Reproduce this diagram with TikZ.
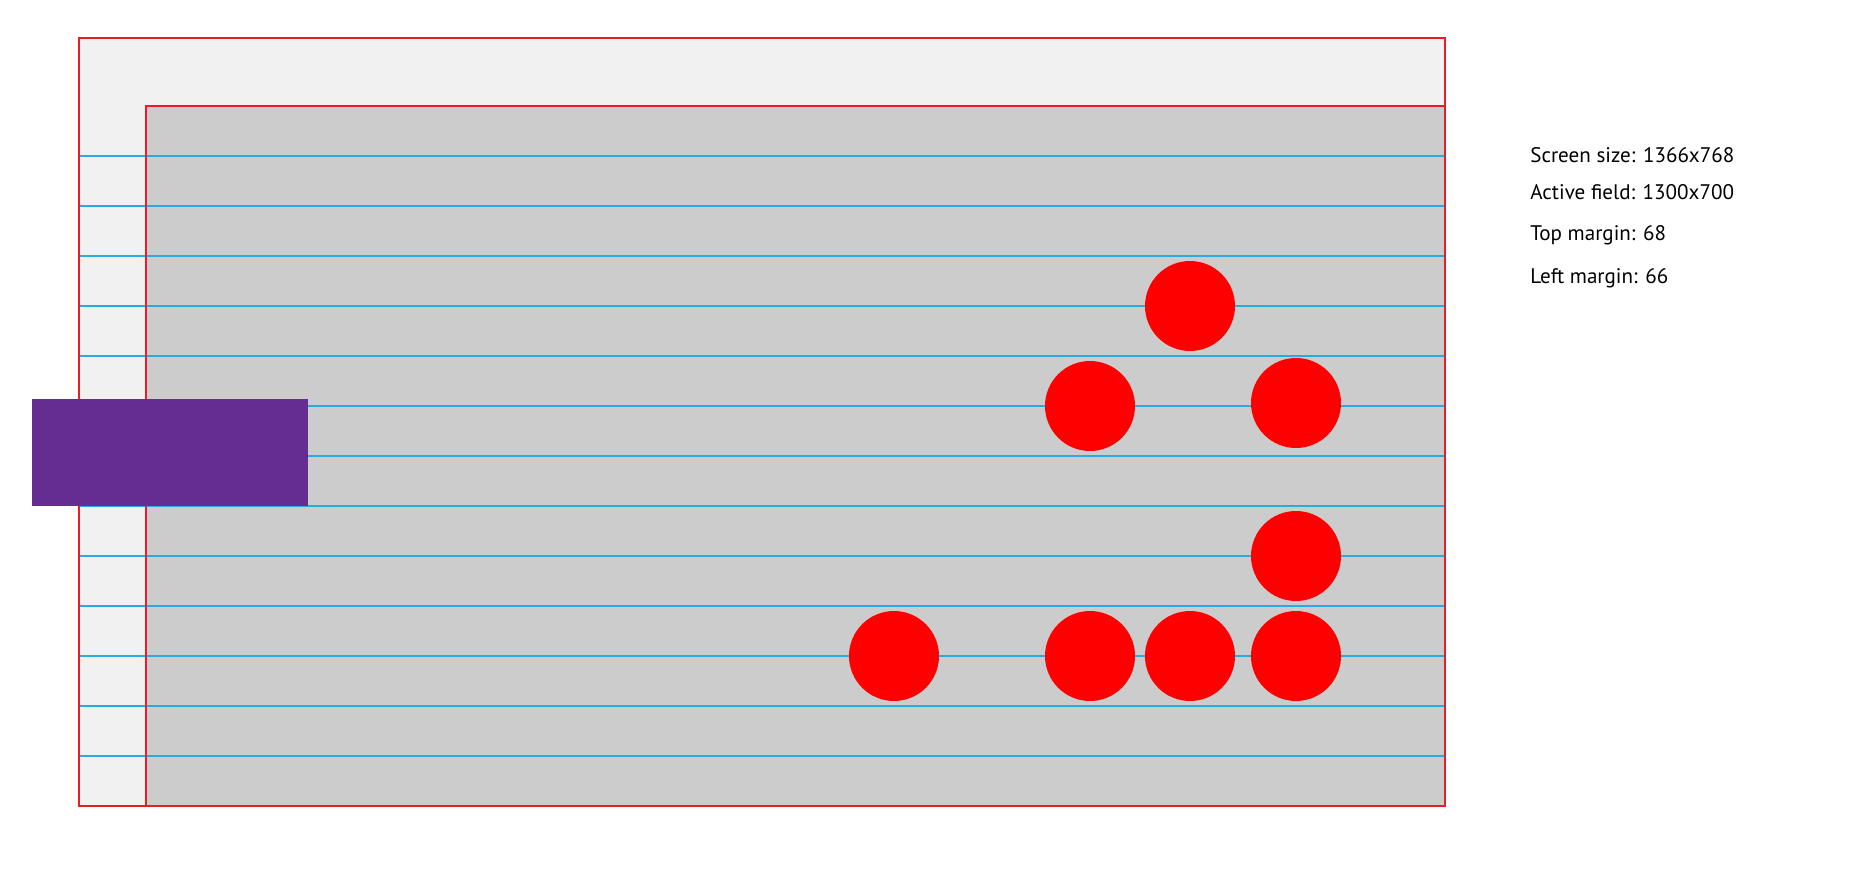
\documentclass[tikz,border=0pt]{standalone}
\usepackage{fontspec}
\setmainfont{PT Sans}
\usepackage{tikz}
\definecolor{cFrame}{HTML}{ED1C24}
\definecolor{cScreen}{HTML}{F1F1F2}
\definecolor{cField}{HTML}{CCCCCC}
\definecolor{cRow}{HTML}{29ABE2}
\definecolor{cBar}{HTML}{662D91}
\definecolor{cDot}{HTML}{FF0000}

\begin{document}
\begin{tikzpicture}[
  x=0.02cm, y=-0.02cm,
  frame/.style={draw=cFrame, line width=0.05cm},
  row/.style={draw=cRow, line width=0.04cm},
  dot/.style={circle, fill=cDot, minimum size=1.8cm, inner sep=0pt},
  info/.style={anchor=base west, inner sep=0pt,
    font=\fontsize{12}{14}\selectfont},
]
\useasboundingbox (0,0) rectangle (1857,885);
% Screen and active field
\fill[cScreen] (79,38) rectangle (1445,806);
\fill[cField]  (146,106) rectangle (1445,806);
% Rows
\foreach \y in {156,206,...,756}
  \draw[row] (79,\y) -- (1445,\y);
% Borders
\draw[frame] (79,38) rectangle (1445,806);
\draw[frame] (146,806) -- (146,106) -- (1445,106);
% Bar
\fill[cBar] (32,399) rectangle (308,506);
% Dots
\node[dot] (d1) at (1190,306) {};
\node[dot] (d2) at (1090,406) {};
\node[dot] (d3) at (1296,403) {};
\node[dot] (d4) at (1296,556) {};
\node[dot] (d5) at (894,656) {};
\node[dot] (d6) at (1090,656) {};
\node[dot] (d7) at (1190,656) {};
\node[dot] (d8) at (1296,656) {};
% Notes
\node[info] (size)  at (1530,163) {Screen size: 1366x768};
\node[info] (field) at (1530,200) {Active field: 1300x700};
\node[info] (topm)  at (1530,241) {Top margin: 68};
\node[info] (leftm) at (1530,284) {Left margin: 66};
\end{tikzpicture}
\end{document}
